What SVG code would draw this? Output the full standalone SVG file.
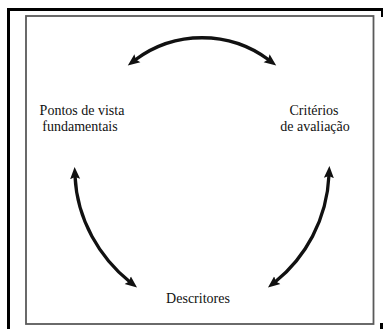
<svg xmlns="http://www.w3.org/2000/svg" width="383" height="329" viewBox="0 0 383 329">
  <defs>
    <style>
      .lbl { font-family: "Liberation Serif", "Times New Roman", serif; font-size: 14px; fill: #111; text-anchor: middle; }
      .conn { fill: none; stroke: #111; stroke-width: 3.3; }
      .frame { fill: none; stroke: #000; stroke-width: 3; }
    </style>
    <marker id="ah" markerUnits="userSpaceOnUse" markerWidth="13" markerHeight="11" viewBox="0 0 13 11" refX="3" refY="5.5" orient="auto-start-reverse">
      <path d="M0,0.5 L12,5.5 L0,10.5 L2,5.5 z" fill="#111"/>
    </marker>
  </defs>
  <rect width="383" height="329" fill="#fff"/>
  <g id="frame">
    <path class="frame" d="M8.5,329 V9.5 H383"/>
    <path d="M381,8 H383 V17 H381 z" fill="#000"/>
    <rect x="380" y="323" width="3" height="6" fill="#000"/>
    <rect x="26" y="16" width="347.5" height="308" fill="#fff" stroke="#5a5a5a" stroke-width="1.8"/>
  </g>
  <g id="connectors">
    <path class="conn" d="M135,60 A112,112 0 0 1 269,60" marker-start="url(#ah)" marker-end="url(#ah)"/>
    <path class="conn" d="M75,176 C77,220 100,258 130,282" marker-start="url(#ah)" marker-end="url(#ah)"/>
    <path class="conn" d="M329,175 C327,220 305,258 275,282" marker-start="url(#ah)" marker-end="url(#ah)"/>
  </g>
  <g id="pontos">
    <text class="lbl" x="82" y="115">Pontos de vista</text>
    <text class="lbl" x="80" y="131">fundamentais</text>
  </g>
  <g id="criterios">
    <text class="lbl" x="314" y="115">Critérios</text>
    <text class="lbl" x="315" y="131">de avaliação</text>
  </g>
  <g id="descritores">
    <text class="lbl" x="198" y="303">Descritores</text>
  </g>
</svg>
